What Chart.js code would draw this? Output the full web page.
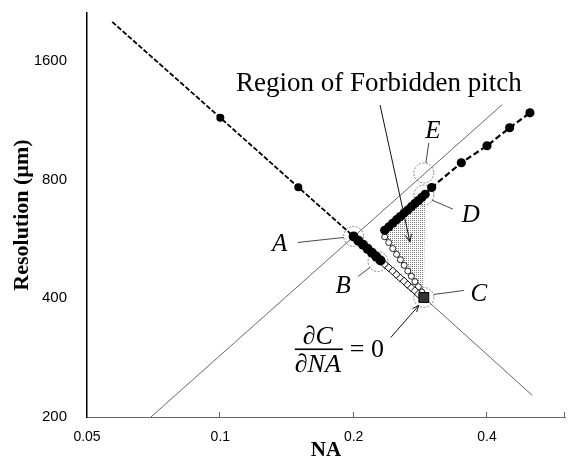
<!DOCTYPE html>
<html><head><meta charset="utf-8">
<script src="https://cdn.jsdelivr.net/npm/chart.js@4/dist/chart.umd.min.js"></script>
<style>html,body{margin:0;padding:0;background:#fff;} #wrap{width:568px;height:461px;position:relative;}</style>
</head><body><div id="wrap"><canvas id="c"></canvas></div>
<script>
// ---- data ----
const xTicks = [0.05, 0.1, 0.2, 0.4];
const yTicks = [200, 400, 800, 1600];
const mainNA  = [0.057, 0.1, 0.15, 0.2, 0.205, 0.21, 0.215, 0.22, 0.225, 0.23];
const mainRes = [2010, 1148, 765, 574, 560, 547, 534, 522, 510, 499];
const diamondNA  = [0.235, 0.24, 0.245, 0.25, 0.255, 0.26, 0.265, 0.27, 0.275, 0.28];
const diamondRes = [488, 478, 469, 459, 450, 442, 433, 425, 418, 410];
const edgeNA  = [0.235, 0.24, 0.245, 0.25, 0.255, 0.26, 0.265, 0.27, 0.275, 0.28, 0.285];
const edgeRes = [573, 554, 535, 517, 501, 485, 469, 455, 441, 428, 415];
const upperNA  = [0.235, 0.24, 0.245, 0.25, 0.255, 0.26, 0.265, 0.27, 0.275, 0.28, 0.285, 0.29, 0.3, 0.35, 0.4, 0.45, 0.5];
const upperRes = [595, 607, 620, 633, 645, 658, 670, 683, 696, 708, 721, 734, 764, 883, 975, 1083, 1182];
const cNA = [0.288];
const cRes = [402];
const diagNA = [0.0697, 0.433];
const diagRes = [200, 1240];
const tailNA = [0.288, 0.506];
const tailRes = [402, 227];
const markNames = ['A', 'B', 'C', 'D', 'E'];
const markNA  = [0.2, 0.227, 0.288, 0.288, 0.288];
const markRes = [574, 496, 402, 731, 832];
const regionLabel = 'Region of Forbidden pitch';
const regionLabelNA = 0.228, regionLabelRes = 1400;
const regionArrowNA = [0.2294, 0.268];
const regionArrowRes = [1237, 556];
const clusterMaxNA = 0.29;

const pts = (xs, ys) => xs.map((x, i) => ({x: x, y: ys[i]}));

// stipple pattern for the forbidden region
const pc = document.createElement('canvas'); pc.width = 2; pc.height = 2;
const pcx = pc.getContext('2d');
pcx.fillStyle = '#ffffff'; pcx.fillRect(0, 0, 2, 2);
pcx.fillStyle = '#7a7a7a'; pcx.fillRect(0, 0, 1, 1);
const stipple = pcx.createPattern(pc, 'repeat');

const SERIF = "'Liberation Serif', 'Times New Roman', serif";
const SANS = "'Liberation Sans', Arial, sans-serif";
const CIRCLE_IDX = 5;

// label offsets (pixels) relative to circled points A..E
const labelOff = {
  A: {t: [-74, 7], l: [[-56, 6], [-10, 1]]},
  B: {t: [-35, 24], l: [[-20, 15], [-8, 6]]},
  C: {t: [55, -4], l: [[10, -3], [40, -7]]},
  D: {t: [47, 19], l: [[8, 5], [29, 14]]},
  E: {t: [9, -42], l: [[5, -30], [2, -10]]}
};

function arrow(ctx, x1, y1, x2, y2, head) {
  ctx.beginPath(); ctx.moveTo(x1, y1); ctx.lineTo(x2, y2); ctx.stroke();
  const a = Math.atan2(y2 - y1, x2 - x1);
  ctx.beginPath();
  ctx.moveTo(x2 - head * Math.cos(a - 0.4), y2 - head * Math.sin(a - 0.4));
  ctx.lineTo(x2, y2);
  ctx.lineTo(x2 - head * Math.cos(a + 0.4), y2 - head * Math.sin(a + 0.4));
  ctx.stroke();
}

const deco = {
  id: 'deco',
  beforeDatasetsDraw(chart) {
    const {ctx, scales: {x, y}} = chart;
    const poly = [];
    upperNA.forEach((v, i) => { if (v <= clusterMaxNA) poly.push([v, upperRes[i]]); });
    poly.push([cNA[0], cRes[0]]);
    for (let i = edgeNA.length - 1; i >= 0; i--) poly.push([edgeNA[i], edgeRes[i]]);
    ctx.save();
    ctx.beginPath();
    poly.forEach(([a, b], i) => {
      const px = x.getPixelForValue(a), py = y.getPixelForValue(b);
      if (i) ctx.lineTo(px, py); else ctx.moveTo(px, py);
    });
    ctx.closePath();
    ctx.fillStyle = stipple; ctx.fill();
    // inward x tick marks
    ctx.strokeStyle = '#666'; ctx.lineWidth = 1;
    xTicks.slice(1).concat([x.max]).forEach(v => {
      const px = Math.round(x.getPixelForValue(v)) - 0.5;
      ctx.beginPath(); ctx.moveTo(px, y.bottom); ctx.lineTo(px, y.bottom - 5); ctx.stroke();
    });
    ctx.restore();
  },
  beforeDatasetDraw(chart, args) {
    if (args.index === CIRCLE_IDX) { chart.ctx.save(); chart.ctx.setLineDash([2, 1.5]); }
  },
  afterDatasetDraw(chart, args) {
    if (args.index === CIRCLE_IDX) chart.ctx.restore();
  },
  afterDatasetsDraw(chart) {
    const {ctx, scales: {x, y}} = chart;
    ctx.save();
    ctx.fillStyle = '#000';
    ctx.strokeStyle = '#333';
    ctx.lineWidth = 0.9;
    // A..E labels and leaders
    markNames.forEach((n, i) => {
      const cx = x.getPixelForValue(markNA[i]), cy = y.getPixelForValue(markRes[i]);
      const o = labelOff[n];
      ctx.beginPath();
      ctx.moveTo(cx + o.l[0][0], cy + o.l[0][1]);
      ctx.lineTo(cx + o.l[1][0], cy + o.l[1][1]);
      ctx.stroke();
      ctx.font = 'italic 25px ' + SERIF;
      ctx.textAlign = 'center'; ctx.textBaseline = 'middle';
      ctx.fillText(n, cx + o.t[0], cy + o.t[1] + 1);
    });
    // region label + arrow
    ctx.font = '27px ' + SERIF;
    ctx.textAlign = 'center'; ctx.textBaseline = 'middle';
    ctx.fillText(regionLabel, x.getPixelForValue(regionLabelNA), y.getPixelForValue(regionLabelRes));
    ctx.strokeStyle = '#111'; ctx.lineWidth = 1;
    arrow(ctx, x.getPixelForValue(regionArrowNA[0]), y.getPixelForValue(regionArrowRes[0]),
               x.getPixelForValue(regionArrowNA[1]), y.getPixelForValue(regionArrowRes[1]), 8);
    // derivative formula near C
    const cx = x.getPixelForValue(cNA[0]), cy = y.getPixelForValue(cRes[0]);
    ctx.font = 'italic 26px ' + SERIF;
    ctx.fillText('\u2202C', cx - 106, cy + 40);
    ctx.fillText('\u2202NA', cx - 106, cy + 68);
    ctx.fillRect(cx - 129, cy + 51, 48, 1.6);
    ctx.font = '26px ' + SERIF;
    ctx.fillText('= 0', cx - 57, cy + 53);
    arrow(ctx, cx - 33, cy + 40, cx - 5, cy + 8, 7);
    ctx.restore();
  }
};

const noPad = s => { s.paddingTop = 0; s.paddingBottom = 0; s.paddingLeft = 0; s.paddingRight = 0; };

const ctxEl = document.getElementById('c');
new Chart(ctxEl, {
  type: 'scatter',
  data: {
    datasets: [
      { // 0: point C
        data: pts(cNA, cRes), pointStyle: 'rect', pointRadius: 7,
        backgroundColor: '#333', borderColor: '#000', borderWidth: 1, showLine: false
      },
      { // 1: upper branch
        data: pts(upperNA, upperRes), showLine: true, borderColor: '#000', borderWidth: 2.2,
        borderDash: [6, 3], pointRadius: 4.6, pointBackgroundColor: '#000', pointBorderColor: '#000',
        pointBorderWidth: 0
      },
      { // 2: main 1/NA branch
        data: pts(mainNA, mainRes), showLine: true, borderColor: '#000', borderWidth: 1.8,
        borderDash: [5, 2],
        pointRadius: c => c.dataIndex === 0 ? 0 : (c.dataIndex < 3 ? 4 : 5),
        pointBackgroundColor: '#000', pointBorderColor: '#000', pointBorderWidth: 0
      },
      { // 3: diamonds
        data: pts(diamondNA, diamondRes), showLine: true, borderColor: '#000', borderWidth: 1,
        pointStyle: 'rectRot', pointRadius: 4, pointBackgroundColor: '#fff',
        pointBorderColor: '#000', pointBorderWidth: 1
      },
      { // 4: lower edge of region (small circles)
        data: pts(edgeNA, edgeRes), showLine: true, borderColor: '#000', borderWidth: 1,
        pointStyle: 'circle', pointRadius: 3, pointBackgroundColor: '#fff',
        pointBorderColor: '#222', pointBorderWidth: 1
      },
      { // 5: circled points A..E
        data: pts(markNA, markRes), showLine: false, pointStyle: 'circle', pointRadius: 10,
        pointBackgroundColor: 'rgba(0,0,0,0)', pointBorderColor: '#777', pointBorderWidth: 0.9
      },
      { // 6: diagonal reference line
        data: pts(diagNA, diagRes), showLine: true, borderColor: '#666', borderWidth: 1,
        pointRadius: 0
      },
      { // 7: tail line beyond C
        data: pts(tailNA, tailRes), showLine: true, borderColor: '#666', borderWidth: 1,
        pointRadius: 0
      }
    ]
  },
  options: {
    responsive: true, maintainAspectRatio: false, animation: false,
    devicePixelRatio: 1,
    layout: {autoPadding: false, padding: {left: 0, top: 13, right: 3, bottom: 0}},
    plugins: {legend: {display: false}, tooltip: {enabled: false}},
    elements: {line: {tension: 0}},
    scales: {
      x: {
        type: 'logarithmic', min: 0.05, max: 0.6,
        afterBuildTicks: s => { s.ticks = xTicks.map(v => ({value: v})); },
        afterFit: s => { s.height = 44; noPad(s); },
        grid: {display: false, drawTicks: false},
        border: {display: true, color: '#666', width: 1},
        ticks: {autoSkip: false, maxRotation: 0, padding: 12, color: '#000',
                font: {family: SANS, size: 14}, callback: v => String(v)},
        title: {display: true, text: 'NA', color: '#000', padding: {top: 0, bottom: 0},
                font: {family: SERIF, size: 21, weight: 'bold', lineHeight: 1}}
      },
      y: {
        type: 'logarithmic', min: 200, max: 2117,
        afterBuildTicks: s => { s.ticks = yTicks.map(v => ({value: v})); },
        afterFit: s => { s.width = 87; noPad(s); },
        grid: {display: false, drawTicks: false},
        border: {display: true, color: '#000', width: 1.5},
        ticks: {autoSkip: false, padding: 20, color: '#000',
                font: {family: SANS, size: 15}, callback: v => String(v)},
        title: {display: true, text: 'Resolution (\u00b5m)', color: '#000', padding: {top: 11, bottom: 0},
                font: {family: SERIF, size: 22, weight: 'bold', lineHeight: 1}}
      }
    }
  },
  plugins: [deco]
});
</script>
</body></html>
